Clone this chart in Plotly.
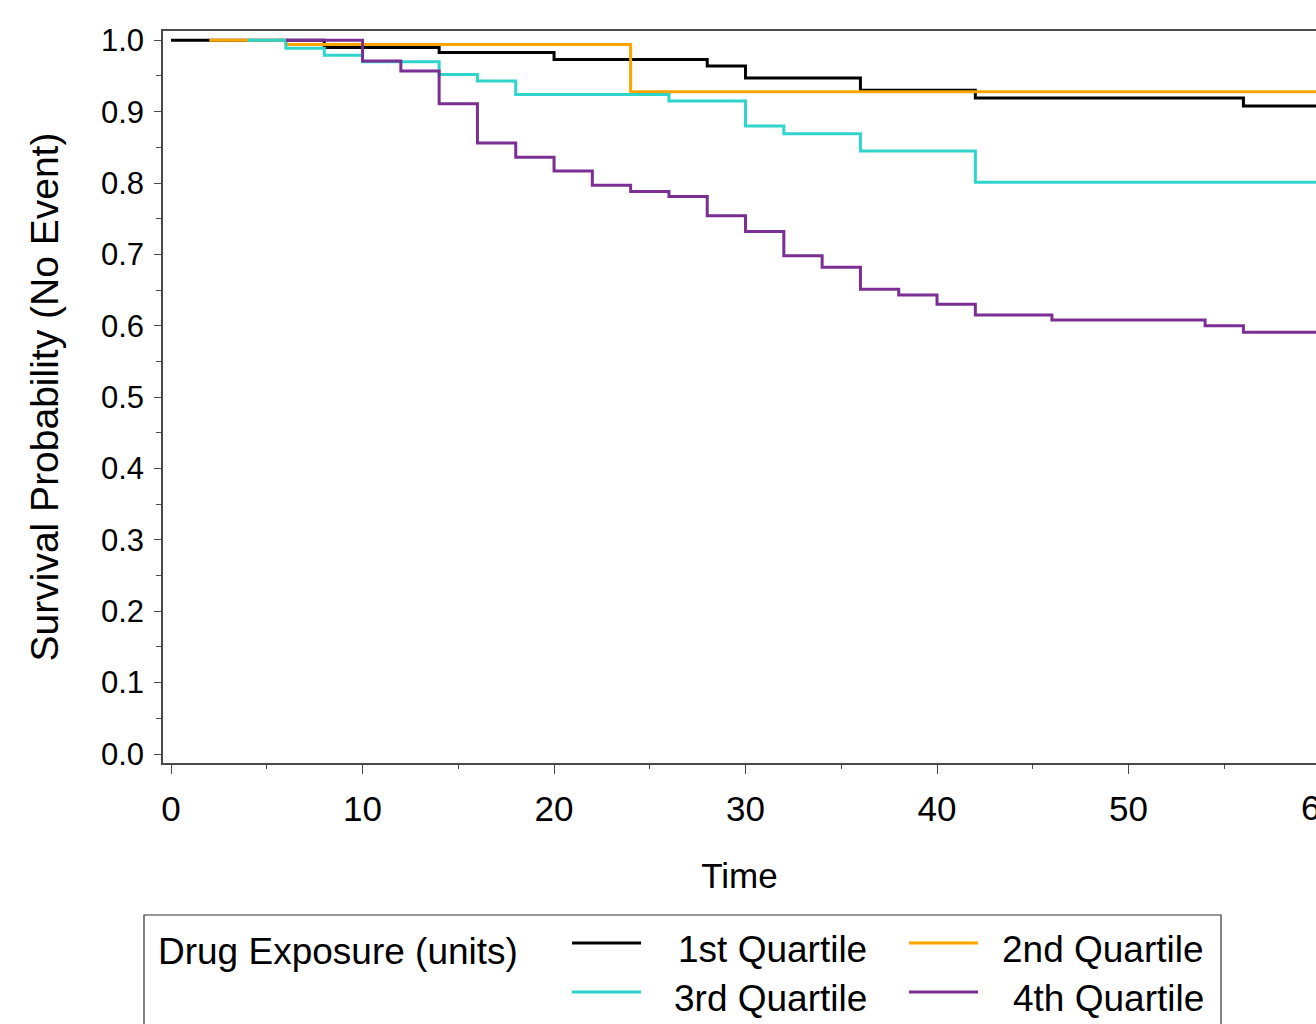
import plotly.graph_objects as go

# Kaplan-Meier step curves by drug exposure quartile
groups = ["1st Quartile", "2nd Quartile", "3rd Quartile", "4th Quartile"]
colors = ["#000000", "#FFA500", "#2FD5CB", "#7B2F93"]

q1_time = [0, 8, 14, 20, 28, 30, 36, 42, 56, 62]
q1_surv = [1.0, 0.990, 0.983, 0.973, 0.964, 0.947, 0.930, 0.919, 0.908, 0.908]

q2_time = [2, 6, 24, 62]
q2_surv = [1.0, 0.994, 0.928, 0.928]

q3_time = [4, 6, 8, 10, 14, 16, 18, 26, 30, 32, 36, 42, 62]
q3_surv = [1.0, 0.989, 0.979, 0.970, 0.952, 0.943, 0.924, 0.915, 0.880, 0.869, 0.845, 0.801, 0.801]

q4_time = [6, 10, 12, 14, 16, 18, 20, 22, 24, 26, 28, 30, 32, 34, 36, 38, 40, 42, 46, 54, 56, 62]
q4_surv = [1.0, 0.971, 0.957, 0.911, 0.856, 0.836, 0.817, 0.797, 0.788, 0.781, 0.754, 0.732,
           0.698, 0.682, 0.651, 0.643, 0.630, 0.615, 0.608, 0.600, 0.591, 0.591]

times = [q1_time, q2_time, q3_time, q4_time]
survs = [q1_surv, q2_surv, q3_surv, q4_surv]

x_ticks = [0, 10, 20, 30, 40, 50, 60]
y_ticks = [0.0, 0.1, 0.2, 0.3, 0.4, 0.5, 0.6, 0.7, 0.8, 0.9, 1.0]

legend_title = "Drug Exposure (units)"
FONT = "Liberation Sans, Arial, sans-serif"
AXIS_COLOR = "#4a4a4a"

W, H = 1316, 1024
ML, MR, MT, MB = 163, 0, 31, 261
PW, PH = W - ML - MR, H - MT - MB

X_RANGE = [-0.42, 59.79]
Y_RANGE = [-0.0126, 1.013]

fig = go.Figure()
for name, col, t, s in zip(groups, colors, times, survs):
    fig.add_trace(go.Scatter(
        x=t, y=s, mode="lines", name=name,
        line=dict(color=col, width=3, shape="hv"),
        showlegend=False, hoverinfo="x+y+name",
    ))

fig.update_layout(
    width=W, height=H,
    margin=dict(l=ML, r=MR, t=MT, b=MB, autoexpand=False),
    paper_bgcolor="white", plot_bgcolor="white",
    font=dict(family=FONT, color="black"),
)

fig.update_xaxes(
    range=X_RANGE, tickvals=x_ticks, ticktext=[str(v) for v in x_ticks],
    showgrid=False, zeroline=False,
    showline=True, linecolor=AXIS_COLOR, linewidth=1.5, mirror=True,
    ticks="outside", ticklen=9, tickwidth=1.2, tickcolor=AXIS_COLOR,
    tickfont=dict(size=35, family=FONT), ticklabelstandoff=5,
    minor=dict(dtick=5, tick0=0, ticks="outside", ticklen=4, tickwidth=1.2, tickcolor=AXIS_COLOR),
    title=dict(text="Time", font=dict(size=35, family=FONT), standoff=37),
)
fig.update_yaxes(
    range=Y_RANGE, tickvals=y_ticks, tickformat=".1f",
    showgrid=False, zeroline=False,
    showline=True, linecolor=AXIS_COLOR, linewidth=1.5, mirror=False,
    ticks="outside", ticklen=7, tickwidth=1.2, tickcolor=AXIS_COLOR,
    tickfont=dict(size=31, family=FONT), ticklabelstandoff=4,
    minor=dict(dtick=0.05, tick0=0, ticks="outside", ticklen=5, tickwidth=1.2, tickcolor=AXIS_COLOR),
    title=dict(text="Survival Probability (No Event)", font=dict(size=39, family=FONT), standoff=30),
)


def px_x(px):
    return (px - ML) / PW


def px_y(py):
    return (H - MB - py) / PH


# tick label for 60 sits just past the right edge of the plot area
fig.add_annotation(
    xref="paper", yref="paper", x=px_x(ML + (x_ticks[-1] - X_RANGE[0]) / (X_RANGE[1] - X_RANGE[0]) * PW),
    y=px_y(808), text=str(x_ticks[-1]), showarrow=False,
    xanchor="center", yanchor="middle", font=dict(size=35, family=FONT),
)

# legend panel below the plot
fig.add_shape(type="rect", xref="paper", yref="paper",
              x0=px_x(144), x1=px_x(1221), y0=px_y(915), y1=px_y(1045),
              line=dict(color="#333333", width=1.2), fillcolor="rgba(0,0,0,0)")
fig.add_annotation(xref="paper", yref="paper", x=px_x(156), y=px_y(951),
                   text=legend_title, showarrow=False, xanchor="left", yanchor="middle",
                   font=dict(size=37, family=FONT))

col_line_x = [572, 909]
col_text_right = [869, 1206]
row_y = [945, 994]
for i, (name, col) in enumerate(zip(groups, colors)):
    r, c = divmod(i, 2)
    fig.add_shape(type="line", xref="paper", yref="paper",
                  x0=px_x(col_line_x[c]), x1=px_x(col_line_x[c] + 69),
                  y0=px_y(row_y[r] - 2), y1=px_y(row_y[r] - 2),
                  line=dict(color=col, width=3))
    fig.add_annotation(xref="paper", yref="paper", x=px_x(col_text_right[c]), y=px_y(row_y[r] + 4),
                       text=name, showarrow=False, xanchor="right", yanchor="middle",
                       font=dict(size=37, family=FONT))

fig.write_html("out.html")
